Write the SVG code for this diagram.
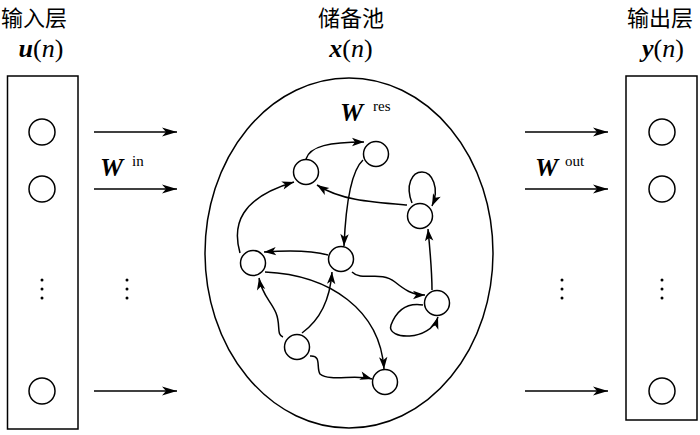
<svg xmlns="http://www.w3.org/2000/svg" width="700" height="435" viewBox="0 0 700 435">
<style>
.ln{fill:none;stroke:#000;stroke-width:1.5}
.nd{fill:#fff;stroke:#000;stroke-width:1.5}
.cn{font-family:"Noto Sans CJK SC","Noto Sans CJK JP",sans-serif;font-size:22px;fill:#000}
.mt{font-family:"Liberation Serif",serif;font-size:26px;fill:#000}
.bi{font-weight:bold;font-style:italic}
.it{font-style:italic}
.sup{font-family:"Liberation Serif",serif;font-size:15px;fill:#000}
.ar{fill:none;stroke:#000;stroke-width:1.5;marker-end:url(#ah)}
.arb{fill:none;stroke:#000;stroke-width:1.6;marker-end:url(#ahb)}
</style>
<defs>
<marker id="ah" markerUnits="userSpaceOnUse" viewBox="-13 -5 14 10" refX="0" refY="0" markerWidth="14" markerHeight="10" orient="auto">
<path d="M0,0 L-12,-4.2 L-9,0 L-12,4.2 Z" fill="#000"/>
</marker>
<marker id="ahb" markerUnits="userSpaceOnUse" viewBox="-16 -5 17 10" refX="0" refY="0" markerWidth="17" markerHeight="10" orient="auto">
<path d="M0,0 L-15,-4.5 L-11,0 L-15,4.5 Z" fill="#000"/>
</marker>
</defs>

<g id="title-in">
<text class="cn" x="34" y="26" text-anchor="middle">输入层</text>
<text class="mt" x="41" y="57" text-anchor="middle"><tspan class="bi">u</tspan>(<tspan class="it">n</tspan>)</text>
</g>
<g id="title-res">
<text class="cn" x="351" y="26" text-anchor="middle">储备池</text>
<text class="mt" x="351" y="57" text-anchor="middle"><tspan class="bi">x</tspan>(<tspan class="it">n</tspan>)</text>
</g>
<g id="title-out">
<text class="cn" x="660" y="26" text-anchor="middle">输出层</text>
<text class="mt" x="663" y="57" text-anchor="middle"><tspan class="bi">y</tspan>(<tspan class="it">n</tspan>)</text>
</g>

<g id="input-layer">
<rect class="ln" x="7.5" y="76" width="70.5" height="353"/>
<circle class="nd" cx="42" cy="132" r="13"/>
<circle class="nd" cx="42" cy="189" r="13"/>
<circle class="nd" cx="42" cy="391" r="13"/>
<circle cx="42" cy="280" r="1.5"/><circle cx="42" cy="289" r="1.5"/><circle cx="42" cy="298" r="1.5"/>
</g>

<g id="output-layer">
<rect class="ln" x="626" y="76" width="71" height="344"/>
<circle class="nd" cx="662" cy="132" r="13"/>
<circle class="nd" cx="662" cy="189" r="13"/>
<circle class="nd" cx="662" cy="391" r="13"/>
<circle cx="662" cy="280" r="1.5"/><circle cx="662" cy="289" r="1.5"/><circle cx="662" cy="298" r="1.5"/>
</g>

<g id="reservoir">
<ellipse class="ln" cx="349" cy="253" rx="144" ry="175"/>
<text class="mt" x="340" y="121"><tspan class="bi">W</tspan></text>
<text class="sup" x="373" y="111">res</text>
</g>

<g id="labels">
<text class="mt" x="100" y="176"><tspan class="bi">W</tspan></text>
<text class="sup" x="132" y="166">in</text>
<circle cx="127" cy="280" r="1.5"/><circle cx="127" cy="289" r="1.5"/><circle cx="127" cy="298" r="1.5"/>
<text class="mt" x="535" y="176"><tspan class="bi">W</tspan></text>
<text class="sup" x="565" y="166">out</text>
<circle cx="562" cy="280" r="1.5"/><circle cx="562" cy="289" r="1.5"/><circle cx="562" cy="298" r="1.5"/>
</g>

<g id="connectors">
<path class="arb" d="M94,132 H177"/>
<path class="arb" d="M94,189 H177"/>
<path class="arb" d="M94,391 H177"/>
<path class="arb" d="M525,132 H608"/>
<path class="arb" d="M525,189 H608"/>
<path class="arb" d="M525,391 H608"/>

<path class="ar" d="M306,159 C310,146 330,142 364,142"/>
<path class="ar" d="M363,160 C352,170 346,200 344,246"/>
<path class="ar" d="M407,205 C370,202 340,200 317,185"/>
<path class="ar" d="M412,203 C405,185 412,172 422,172 C432,172 440,188 432,206"/>
<path class="ar" d="M240,253 C232,225 240,198 294,182"/>
<path class="ar" d="M328,255 C310,250 290,250 264,252"/>
<path class="ar" d="M432,290 C432,270 430,250 428,229"/>
<path class="ar" d="M352,272 C362,282 380,270 395,282 C405,290 412,295 425,295"/>
<path class="ar" d="M423,305 C405,302 396,312 391,325 C386,340 430,342 438,317"/>
<path class="ar" d="M265,272 C330,275 380,310 384,369"/>
<path class="ar" d="M283,337 C276,335 281,325 276,313 C271,301 262,295 259,278"/>
<path class="ar" d="M302,333 C320,320 330,300 332,272"/>
<path class="ar" d="M310,356 C322,355 316,368 320,374 C330,382 355,374 372,379"/>
</g>

<g id="res-nodes">
<circle id="nA" class="nd" cx="306" cy="172" r="12.5"/>
<circle id="nB" class="nd" cx="376" cy="154" r="12.5"/>
<circle id="nC" class="nd" cx="420" cy="216" r="12.5"/>
<circle id="nD" class="nd" cx="253" cy="263" r="12.5"/>
<circle id="nE" class="nd" cx="341" cy="259" r="12.5"/>
<circle id="nF" class="nd" cx="437" cy="303" r="12.5"/>
<circle id="nG" class="nd" cx="297" cy="347" r="12.5"/>
<circle id="nH" class="nd" cx="385" cy="382" r="12.5"/>
</g>
</svg>
